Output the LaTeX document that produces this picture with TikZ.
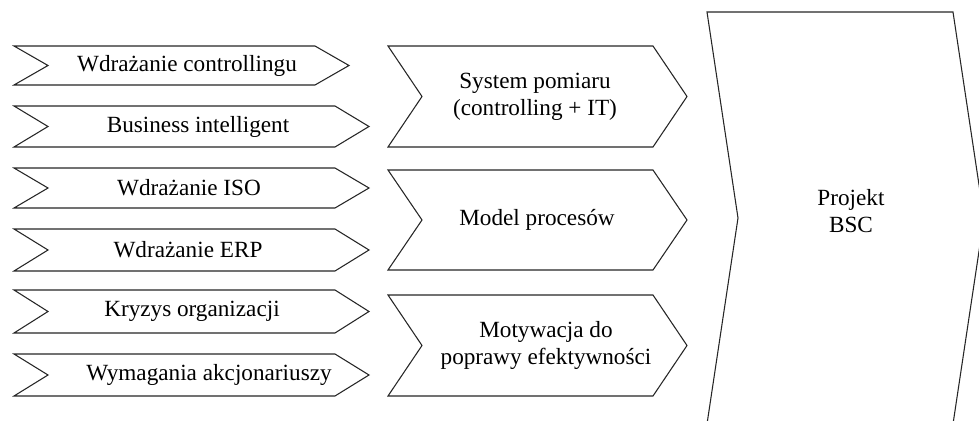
\documentclass[tikz,border=0pt]{standalone}
\usepackage{fontspec}
\setmainfont{Liberation Serif}
\usepackage{tikz}

% chevron: left x, right x (straight part), top y, bottom y, point depth
\newcommand{\chevronpath}[5]{%
  (#1,#3) -- (#2,#3) -- ({#2+#5},{(#3+#4)/2}) -- (#2,#4) -- (#1,#4)
  -- ({#1+#5},{(#3+#4)/2}) -- cycle}

\tikzset{
  arrowbox/.style={draw=black!85,line width=0.8pt,line join=miter,fill=white},
  lbl/.style={font=\fontsize{17.4}{20}\selectfont,align=center,inner sep=0pt}
}

\begin{document}
\begin{tikzpicture}[x=0.75pt,y=-0.75pt]
\useasboundingbox (0,0) rectangle (979,421);
\clip (0,0) rectangle (979,421);

% left column
\draw[arrowbox] \chevronpath{14}{315}{46}{85}{34};
\draw[arrowbox] \chevronpath{14}{335}{106}{147}{34};
\draw[arrowbox] \chevronpath{14}{335}{168}{208}{34};
\draw[arrowbox] \chevronpath{14}{335}{229}{271}{34};
\draw[arrowbox] \chevronpath{14}{335}{290}{333}{34};
\draw[arrowbox] \chevronpath{14}{335}{354}{396}{34};
\node[lbl] (ctrl) at (187,65.5) {Wdrażanie controllingu};
\node[lbl] (bi)   at (198,126.5) {Business intelligent};
\node[lbl] (iso)  at (189,188) {Wdrażanie ISO};
\node[lbl] (erp)  at (188,250) {Wdrażanie ERP};
\node[lbl] (kryz) at (192,311.5) {Kryzys organizacji};
\node[lbl] (akcj) at (209,375) {Wymagania akcjonariuszy};

% middle column
\draw[arrowbox] \chevronpath{388}{653}{46}{147}{34};
\draw[arrowbox] \chevronpath{388}{653}{170}{270}{34};
\draw[arrowbox] \chevronpath{388}{653}{295}{396}{34};
\node[lbl] (pomiar) at (535,96.5) {System pomiaru\\(controlling + IT)};
\node[lbl] (proc)   at (537,220) {Model procesów};
\node[lbl] (motyw)  at (546,345.5) {Motywacja do\\poprawy efektywności};

% project
\draw[arrowbox] \chevronpath{707}{953}{12}{424}{31};
\node[lbl] (bsc) at (851,211) {Projekt\\BSC};
\end{tikzpicture}
\end{document}
